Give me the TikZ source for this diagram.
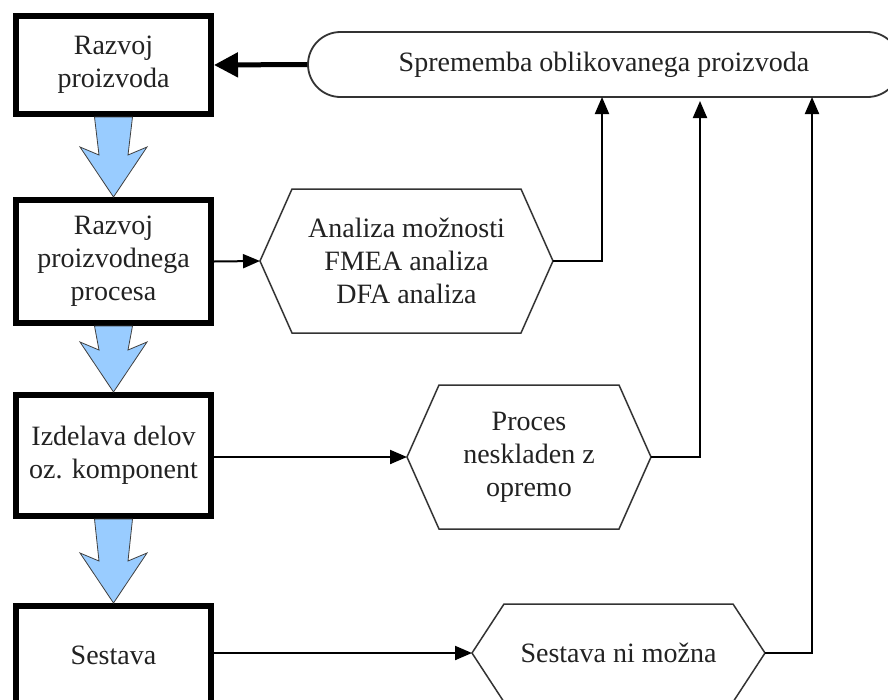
\documentclass[tikz,border=0pt]{standalone}
\usepackage{fontspec}
\setmainfont{Liberation Serif}
\usetikzlibrary{arrows.meta,calc,shapes.misc}
\definecolor{flowblue}{RGB}{153,204,255}
\definecolor{txt}{RGB}{34,34,34}
\tikzset{
  stagebox/.style={draw=black,line width=6pt,fill=white,minimum width=195pt,inner sep=0pt,align=center,text=txt},
  hexnode/.style={inner sep=0pt,outer sep=0pt,align=center,text=txt},
  hexline/.style={draw=black!80,line width=1.5pt,fill=white},
  capsule/.style={rounded rectangle,draw=black!80,line width=1.8pt,minimum width=592pt,minimum height=65pt,inner sep=0pt,text=txt},
  thinarrow/.style={draw=black,line width=2pt,-{Triangle[length=17pt,width=14pt]}},
  thickarrow/.style={draw=black,line width=5pt,-{Triangle[length=24pt,width=24pt]}},
  blueflow/.style={draw=black!75,line width=0.8pt,fill=flowblue,line join=miter}
}
\newcommand{\flowarrow}[2]{%
  \draw[blueflow] ($(#1.south)+(-19,0)$) -- ($(#2.north)+(-14.5,-42)$) -- ($(#2.north)+(-33.5,-50)$) -- (#2.north)
    -- ($(#2.north)+(33.5,-50)$) -- ($(#2.north)+(14.5,-42)$) -- ($(#1.south)+(19,0)$) -- cycle;}
\newcommand{\hexdraw}[1]{%
  \draw[hexline] (#1.west) -- ($(#1.north west)+(32,0)$) -- ($(#1.north east)+(-32,0)$) -- (#1.east)
    -- ($(#1.south east)+(-32,0)$) -- ($(#1.south west)+(32,0)$) -- cycle;}
\begin{document}
\begin{tikzpicture}[x=1pt,y=-1pt,font=\fontsize{28}{33}\selectfont]
\useasboundingbox (0,0) rectangle (888,699);
\fill[white] (0,0) rectangle (888,699);
% stages
\node[stagebox,minimum height=98pt] (b1) at (113.5,65) {Razvoj\\proizvoda};
\node[stagebox,minimum height=123pt] (b2) at (113.5,261.5) {Razvoj\\proizvodnega\\procesa};
\node[stagebox,minimum height=121pt] (b3) at (113.5,455.5) {Izdelava delov\\oz. komponent};
\node[stagebox,minimum height=98pt] (b4) at (113.5,655) {Sestava};
% flow arrows
\flowarrow{b1}{b2}
\flowarrow{b2}{b3}
\flowarrow{b3}{b4}
% top capsule
\node[capsule] (sp) at (604,64.5) {Sprememba oblikovanega proizvoda};
% hexagons
\node[hexnode,minimum width=293pt,minimum height=144pt] (h1) at (406.5,261) {};
\hexdraw{h1}
\node[hexnode] at (h1) {Analiza možnosti\\FMEA analiza\\DFA analiza};
\node[hexnode,minimum width=244pt,minimum height=144pt] (h2) at (529,457) {};
\hexdraw{h2}
\node[hexnode] at (h2) {Proces\\neskladen z\\opremo};
\node[hexnode,minimum width=293pt,minimum height=98pt] (h3) at (618.5,653) {};
\hexdraw{h3}
\node[hexnode] at (h3) {Sestava ni možna};
% targets on capsule
\coordinate (s1) at (602,97);
\coordinate (s2) at (700,101);
\coordinate (s3) at (812,97);
% connectors
\draw[thickarrow] (sp.west) -- (b1.east);
\draw[thinarrow] (b2.east) -- (h1.west);
\draw[thinarrow] (b3.east |- h2.west) -- (h2.west);
\draw[thinarrow] (b4.east |- h3.west) -- (h3.west);
\draw[thinarrow] (h1.east) -| (s1);
\draw[thinarrow] (h2.east) -| (s2);
\draw[thinarrow] (h3.east) -| (s3);
\end{tikzpicture}
\end{document}
